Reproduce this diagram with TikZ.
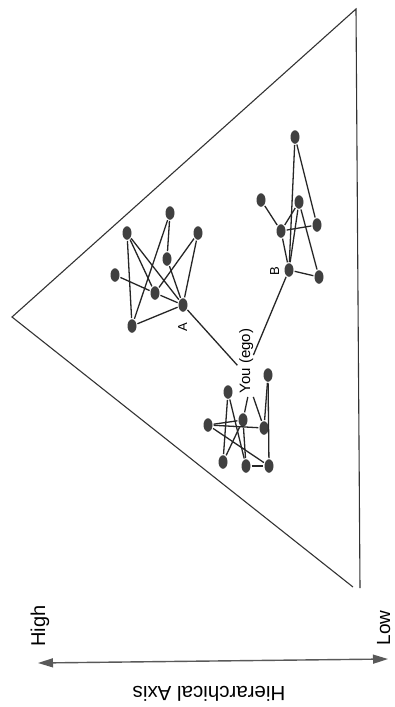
\documentclass[tikz,border=0pt]{standalone}
\usepackage{fontspec}
\setmainfont{Liberation Sans}
\usetikzlibrary{arrows.meta,shapes.geometric}
\begin{document}
\begin{tikzpicture}[x=1pt,y=-1pt,
  dot/.style={ellipse,fill=black!75,minimum width=9pt,minimum height=13.5pt,inner sep=0pt},
  link/.style={draw=black!85,line width=1.3pt,shorten <=1pt,shorten >=1pt},
  frame/.style={draw=black!80,line width=1.1pt},
  axisline/.style={draw=black!65,line width=1.4pt},
  lbl/.style={rotate=90,anchor=base,inner sep=0pt}]
\useasboundingbox (0,0) rectangle (395,707);

% triangle
\coordinate (T1) at (356,9);
\coordinate (T2) at (12,317);
\coordinate (T3) at (353,587);
\coordinate (T4) at (360,588);
\draw[frame] (T4) -- (T1) -- (T2) -- (T3);

% axis
\coordinate (H) at (38,663);
\coordinate (L) at (388,659);
\draw[axisline,{Triangle[length=15pt,width=9pt]}-{Triangle[length=15pt,width=9pt]}] (H) -- (L);
\node[lbl,font=\fontsize{20}{24}\selectfont] (high) at (45,626) {High};
\node[lbl,font=\fontsize{19}{22}\selectfont] (low) at (390,628) {Low};
\node[rotate=180,anchor=base,inner sep=0pt,font=\fontsize{20.5}{24}\selectfont] (axis) at (209,686) {Hierarchical Axis};

% labels
\node[lbl,font=\fontsize{15}{18}\selectfont] (ego) at (250,361) {You (ego)};
\node[lbl,font=\fontsize{13}{15}\selectfont] (Alab) at (187,327) {A};
\node[lbl,font=\fontsize{13}{15}\selectfont] (Blab) at (279,271) {B};
\coordinate (egoA) at (238,366);
\coordinate (egoB) at (253,356);
\coordinate (egoC) at (248,396);
\coordinate (egoD) at (253,396);

% cluster A
\node[dot] (A1) at (127,233) {};
\node[dot] (A2) at (170,213) {};
\node[dot] (A3) at (198,233) {};
\node[dot] (A4) at (167,259) {};
\node[dot] (A5) at (115,275) {};
\node[dot] (A6) at (155,293) {};
\node[dot] (A7) at (183,305) {};
\node[dot] (A8) at (132,326) {};

% cluster B
\node[dot] (B1) at (295,137) {};
\node[dot] (B2) at (261,200) {};
\node[dot] (B3) at (299,202) {};
\node[dot] (B4) at (281,231) {};
\node[dot] (B5) at (317,225) {};
\node[dot] (B6) at (289,270) {};
\node[dot] (B7) at (319,277) {};

% ego cluster
\node[dot] (E1) at (268,375) {};
\node[dot] (E2) at (228,392) {};
\node[dot] (E3) at (243,420) {};
\node[dot] (E4) at (208,425) {};
\node[dot] (E5) at (264,428) {};
\node[dot] (E6) at (223,462) {};
\node[dot] (E7) at (246,466) {};
\node[dot] (E8) at (269,466) {};

\foreach \a/\b in {A1/A8,A1/A7,A1/A6,A2/A8,A2/A4,A3/A6,A3/A7,A4/A7,A5/A6,A6/A7,A8/A7,
  B1/B6,B1/B5,B2/B4,B4/B3,B4/B5,B3/B6,B4/B6,B6/B7,B3/B7,
  E1/E5,E1/E8,E2/E6,E2/E7,E4/E3,E4/E5,E4/E8,E3/E6,E3/E7,E7/E8}
  \draw[link] (\a) -- (\b);

\draw[link] (A7) -- (egoA);
\draw[link] (B6) -- (egoB);
\draw[link] (egoC) -- (E3);
\draw[link] (egoD) -- (E5);
\end{tikzpicture}
\end{document}
